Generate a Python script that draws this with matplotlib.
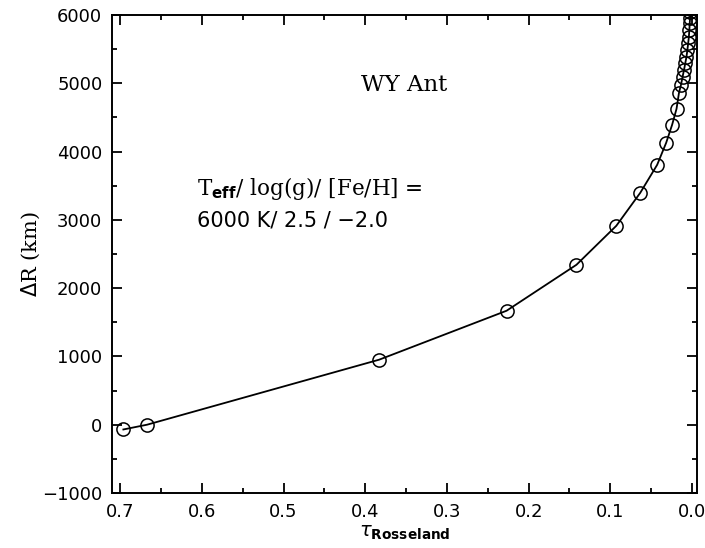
import numpy as np
import matplotlib
matplotlib.use("Agg")
import matplotlib.pyplot as plt
from matplotlib.ticker import MultipleLocator

# Rosseland optical depth and radius offset of the model layers
tau_ross = [0.696, 0.667, 0.383, 0.227, 0.1415, 0.0927, 0.0634, 0.0427,
            0.0317, 0.0244, 0.0190, 0.0160, 0.0135, 0.0116, 0.0098, 0.0082,
            0.0068, 0.0057, 0.0047, 0.0039, 0.0033, 0.0028, 0.0024, 0.0020]
delta_r = [-70, 0, 952, 1669, 2342, 2913, 3396, 3806,
           4128, 4392, 4626, 4860, 4980, 5095, 5197, 5300,
           5390, 5490, 5590, 5680, 5780, 5885, 5960, 6040]

star_name = "WY Ant"
model_line1 = r"T$_{\mathbf{eff}}$/ log(g)/ [Fe/H] ="
model_line2 = "6000 K/ 2.5 / \u22122.0"

fig = plt.figure(figsize=(7.05, 5.48), dpi=100)
ax = fig.add_axes([0.159, 0.1004, 0.8297, 0.8722])

ax.plot(tau_ross, delta_r, color="black", linewidth=1.3, marker="o",
        markersize=9.5, markerfacecolor="none", markeredgecolor="black",
        markeredgewidth=1.1)

ax.set_xlim(0.7098, -0.0061)
ax.set_ylim(-1000, 6000)

ax.xaxis.set_major_locator(MultipleLocator(0.1))
ax.xaxis.set_minor_locator(MultipleLocator(0.05))
ax.yaxis.set_major_locator(MultipleLocator(1000))
ax.yaxis.set_minor_locator(MultipleLocator(500))
ax.xaxis.set_major_formatter(plt.FuncFormatter(lambda v, p: f"{v:.1f}"))

ax.tick_params(which="both", direction="in", top=True, right=True,
               width=1.3, labelsize=13, pad=7)
ax.tick_params(which="major", length=7.5)
ax.tick_params(which="minor", length=3.8)
for sp in ax.spines.values():
    sp.set_linewidth(1.4)

ax.set_xlabel(r"$\tau$$_{\mathbf{Rosseland}}$", fontsize=14, labelpad=2)
ax.set_ylabel(r"$\Delta$R (km)", fontsize=15, family="DejaVu Serif",
              labelpad=0)

ax.text(0.5, 0.854, star_name, transform=ax.transAxes, ha="center",
        va="center", fontsize=16.5, family="DejaVu Serif")
ax.text(0.145, 0.638, model_line1, transform=ax.transAxes, ha="left",
        va="center", fontsize=15.5, family="DejaVu Serif")
ax.text(0.145, 0.571, model_line2, transform=ax.transAxes, ha="left",
        va="center", fontsize=15)

fig.savefig("out.png", dpi=100)
